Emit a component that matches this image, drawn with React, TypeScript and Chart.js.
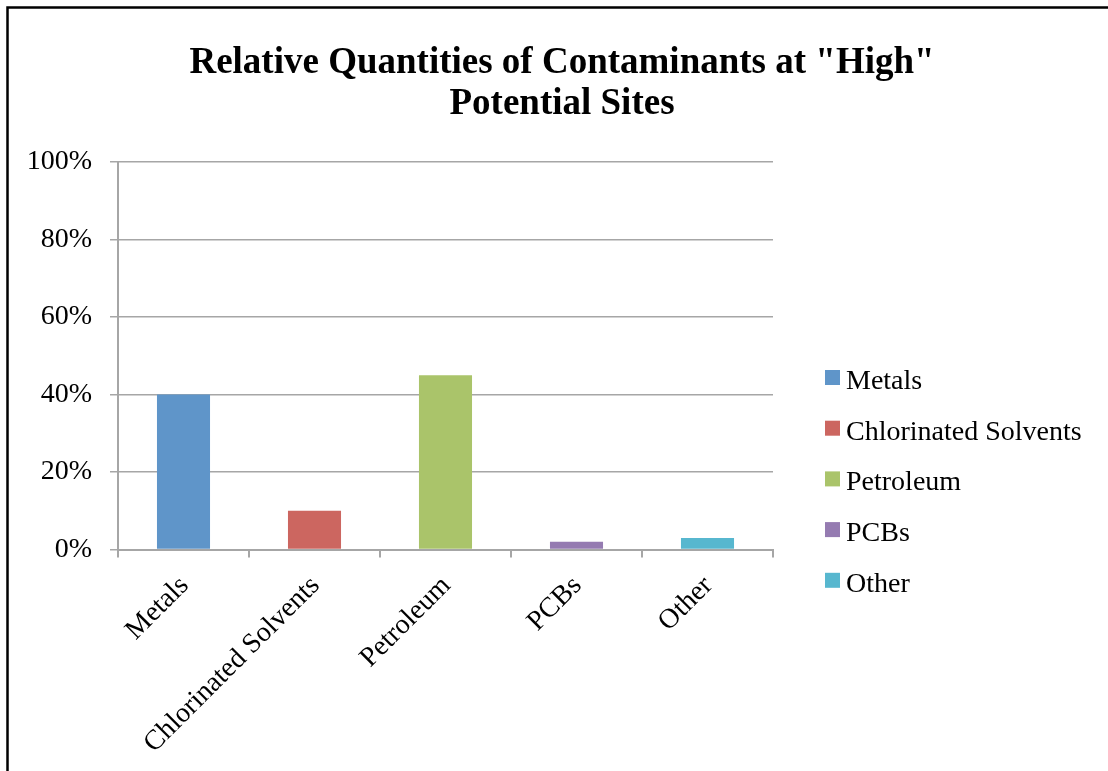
import React, { useEffect, useRef } from "react";
import { Chart, registerables } from "chart.js";

Chart.register(...registerables);

const TITLE_LINES = ['Relative Quantities of Contaminants at "High"', "Potential Sites"];
const CATEGORIES = ["Metals", "Chlorinated Solvents", "Petroleum", "PCBs", "Other"];
const VALUES = [40, 10, 45, 2, 3];
const COLORS = ["#5F95C9", "#CC6660", "#AAC46A", "#957BB1", "#57B7CF"];
const Y_MIN = 0;
const Y_MAX = 100;
const Y_STEP = 20;

const SERIF = '"Liberation Serif", "Times New Roman", serif';
const GRID = "#A6A6A6";

const framePlugin = {
  id: "frame",
  beforeDraw(chart: any) {
    const ctx = chart.ctx;
    ctx.save();
    ctx.fillStyle = "#ffffff";
    ctx.fillRect(0, 0, chart.width, chart.height);
    ctx.restore();
  },
  afterDraw(chart: any) {
    const ctx = chart.ctx;
    ctx.save();
    ctx.strokeStyle = "#000000";
    ctx.lineWidth = 2.5;
    ctx.beginPath();
    ctx.moveTo(7.5, chart.height);
    ctx.lineTo(7.5, 7.5);
    ctx.lineTo(chart.width, 7.5);
    ctx.stroke();
    ctx.restore();
  },
};

// Legend drawn beside the plot area (built-in legend is width-capped by the layout engine)
const sideLegendPlugin = {
  id: "sideLegend",
  afterDraw(chart: any) {
    const ctx = chart.ctx;
    const area = chart.chartArea;
    const boxSize = 15;
    const boxX = area.right + 52;
    const textX = boxX + boxSize + 6;
    const firstCenter = area.top + 215.5;
    const step = 50.7;
    ctx.save();
    ctx.font = `28px ${SERIF}`;
    ctx.textAlign = "left";
    ctx.textBaseline = "alphabetic";
    CATEGORIES.forEach((label, i) => {
      const cy = firstCenter + i * step;
      ctx.fillStyle = COLORS[i];
      ctx.fillRect(boxX, cy - boxSize / 2, boxSize, boxSize);
      ctx.fillStyle = "#000000";
      ctx.fillText(label, textX, cy + 11.5);
    });
    ctx.restore();
  },
};

export default function App() {
  const ref = useRef<HTMLCanvasElement | null>(null);

  useEffect(() => {
    if (!ref.current) return;
    const chart = new Chart(ref.current, {
      type: "bar",
      data: {
        labels: CATEGORIES,
        datasets: [
          {
            label: "Share",
            data: VALUES,
            backgroundColor: COLORS,
            borderWidth: 0,
            barPercentage: 0.405,
            categoryPercentage: 1,
          },
        ],
      },
      options: {
        responsive: false,
        animation: false,
        layout: { padding: { left: 28, right: 12, top: 0, bottom: 0 } },
        plugins: {
          tooltip: { enabled: false },
          legend: { display: false },
          title: {
            display: true,
            text: TITLE_LINES,
            color: "#000000",
            font: { family: SERIF, size: 37, weight: "bold", lineHeight: 1.1 },
            padding: { top: 43, bottom: 37.6 },
          },
        },
        scales: {
          x: {
            grid: {
              display: true,
              drawOnChartArea: false,
              drawTicks: true,
              tickLength: 8,
              color: GRID,
              lineWidth: 2,
            },
            border: { display: true, color: GRID, width: 2 },
            ticks: {
              color: "#000000",
              font: { family: SERIF, size: 28 },
              maxRotation: 45,
              minRotation: 45,
              autoSkip: false,
              padding: 12,
              labelOffset: 1,
            },
            afterFit: (s: any) => {
              s.height = 221.5;
            },
          },
          y: {
            min: Y_MIN,
            max: Y_MAX,
            grid: {
              display: true,
              drawTicks: true,
              tickLength: 8,
              color: GRID,
              lineWidth: 1.5,
            },
            border: { display: true, color: GRID, width: 2 },
            ticks: {
              stepSize: Y_STEP,
              color: "#000000",
              font: { family: SERIF, size: 28 },
              padding: 18,
              callback: (v: any) => v + "%",
            },
            afterFit: (s: any) => {
              s.width = 90;
            },
          },
          legendSpace: {
            type: "linear",
            position: "right",
            display: true,
            grid: { display: false },
            border: { display: false },
            ticks: { display: false },
            afterFit: (s: any) => {
              s.width = 323;
            },
          },
        },
      } as any,
      plugins: [framePlugin, sideLegendPlugin],
    });
    return () => chart.destroy();
  }, []);

  return (
    <div style={{ position: "fixed", left: 0, top: 0, width: 1108, height: 771 }}>
      <canvas ref={ref} width={1108} height={771} style={{ display: "block" }} />
    </div>
  );
}
